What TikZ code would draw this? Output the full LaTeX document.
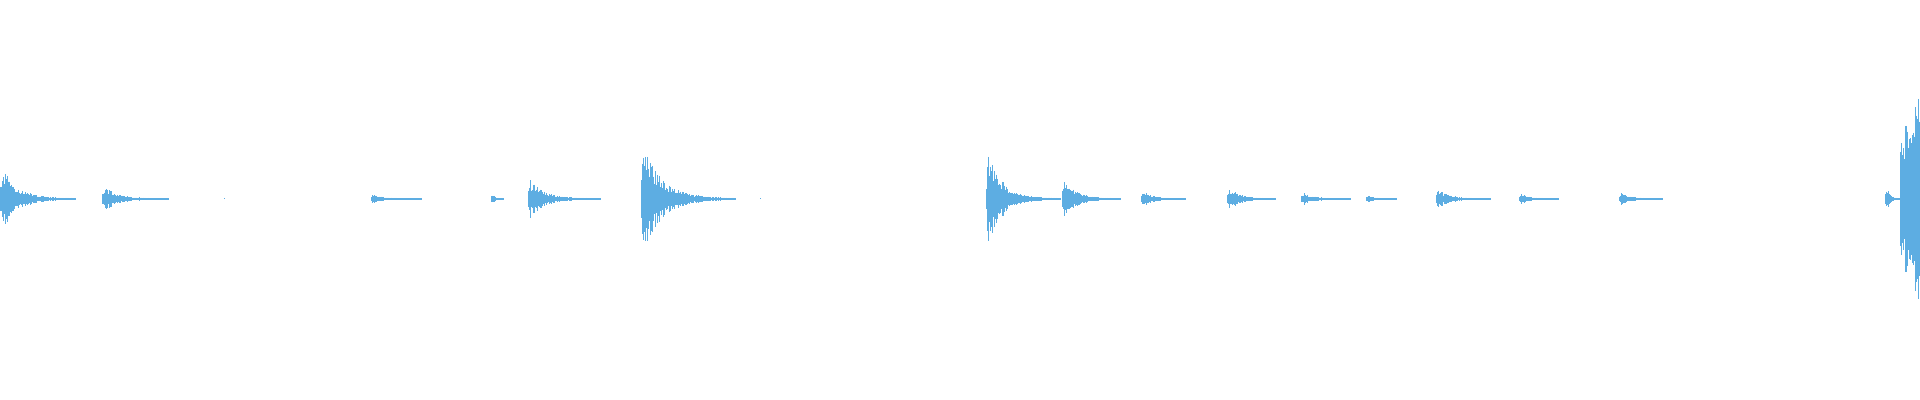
\documentclass[tikz,border=0pt]{standalone}
\definecolor{wave}{RGB}{93,173,226}
\tikzset{every picture/.style={line width=0.5pt}}
\tikzset{wavestroke/.style={draw=wave,line width=0.5pt}}
% one decaying burst: start x, peak half height, length
\newcommand{\wburst}[3]{%
  \foreach \i in {0,...,#3}{%
    \pgfmathsetmacro\wa{#2*min(1,(\i+1)/3)*exp(-\i/(#3/5))*(0.45+0.55*rnd)+0.7}
    \draw[wavestroke] (#1+\i,199-\wa) -- (#1+\i,199+\wa);
  }}
\begin{document}
\begin{tikzpicture}[x=0.5pt,y=-0.5pt]
\pgfmathsetseed{7}
\useasboundingbox (0,0) rectangle (1920,400);

\wburst{0}{36}{75}
\wburst{102}{14}{66}
\draw[wavestroke] (224,198.5) -- (224,199.5);
\wburst{371}{5}{50}
\wburst{491}{8}{12}
\wburst{528}{21}{72}
\wburst{641}{60}{94}
\draw[wavestroke] (760,198.5) -- (760,199.5);
\wburst{986}{52}{74}
\wburst{1062}{24}{58}
\wburst{1141}{10}{44}
\wburst{1227}{14}{48}
\wburst{1301}{7}{49}
\wburst{1366}{4}{30}
\wburst{1436}{11}{54}
\wburst{1519}{6}{39}
\wburst{1619}{7}{43}
\wburst{1885}{22}{14}
% final rising burst
\foreach \i in {0,...,20}{%
  \pgfmathsetmacro\wa{(60+60*\i/20)*(0.5+0.5*rnd)}
  \draw[wavestroke] (1900+\i,199-\wa) -- (1900+\i,199+\wa);
}
\end{tikzpicture}
\end{document}
